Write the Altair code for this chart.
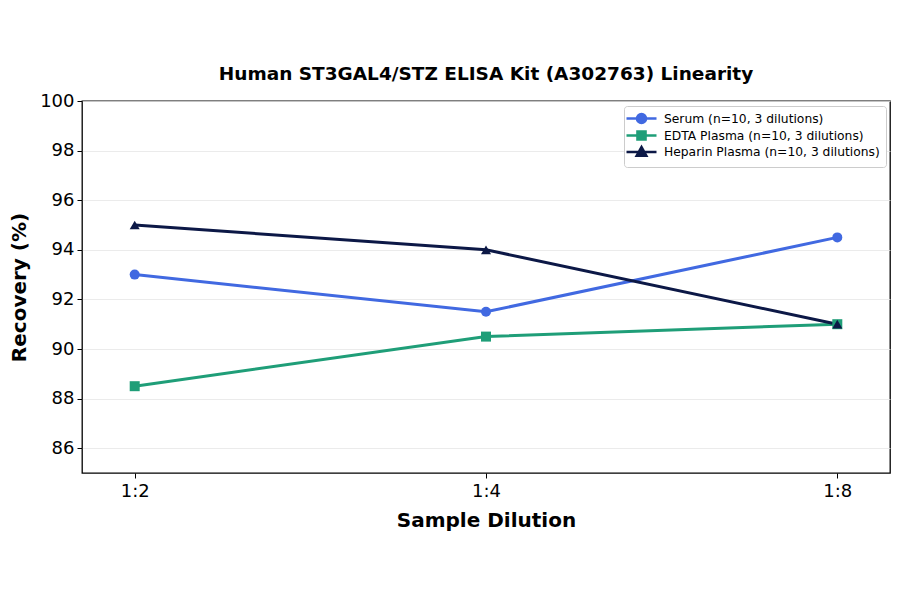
import altair as alt
import pandas as pd

dilutions = ["1:2", "1:4", "1:8"]
series_names = [
    "Serum (n=10, 3 dilutions)",
    "EDTA Plasma (n=10, 3 dilutions)",
    "Heparin Plasma (n=10, 3 dilutions)",
]
serum = [93.0, 91.5, 94.5]
edta = [88.5, 90.5, 91.0]
heparin = [95.0, 94.0, 91.0]
colors = ["#4169e1", "#1f9e78", "#0c1846"]
shapes = ["circle", "square", "triangle-up"]
# legend keys: a short line with the marker on it (unit paths)
legend_keys = [
    "M-3,0H3M0.9,0A0.9,0.9 0 1,1 -0.9,0A0.9,0.9 0 1,1 0.9,0Z",
    "M-3,0H3M-0.8,-0.8H0.8V0.8H-0.8Z",
    "M-3,0H3M0,-0.95L0.95,0.75H-0.95Z",
]

rows = []
for name, values in zip(series_names, [serum, edta, heparin]):
    for dil, val in zip(dilutions, values):
        rows.append({"dilution": dil, "recovery": val, "sample": name})
df = pd.DataFrame(rows)

font = "DejaVu Sans"

x_enc = alt.X(
    "dilution:N",
    sort=dilutions,
    scale=alt.Scale(type="point", padding=0.15),
    axis=alt.Axis(title="Sample Dilution", labelAngle=0),
)
y_enc = alt.Y(
    "recovery:Q",
    scale=alt.Scale(domain=[85, 100], nice=False, zero=False),
    axis=alt.Axis(title="Recovery (%)", values=[86, 88, 90, 92, 94, 96, 98, 100]),
)
color_scale = alt.Scale(domain=series_names, range=colors)

lines = alt.Chart(df).mark_line(strokeWidth=3).encode(
    x=x_enc,
    y=y_enc,
    color=alt.Color("sample:N", scale=color_scale, legend=None),
)
points = alt.Chart(df).mark_point(filled=True, size=100, opacity=1).encode(
    x=x_enc,
    y=y_enc,
    color=alt.Color("sample:N", scale=color_scale, legend=None),
    shape=alt.Shape(
        "sample:N", scale=alt.Scale(domain=series_names, range=shapes), legend=None
    ),
)

key_legend = alt.Legend(
    title=None,
    orient="none",
    legendX=542,
    legendY=5,
    labelFontSize=12.3,
    labelFont=font,
    labelLimit=0,
    symbolSize=100,
    symbolStrokeWidth=2.6,
    symbolOffset=5,
    labelOffset=16,
    rowPadding=-3.5,
    padding=6,
    fillColor="white",
    strokeColor="#cccccc",
    cornerRadius=3,
)
# legend only: no rows pass the filter, the keys come from the scale domain
legend_layer = (
    alt.Chart(df)
    .transform_filter("false")
    .mark_point(filled=True, opacity=1)
    .encode(
        x=x_enc,
        y=y_enc,
        color=alt.Color("sample:N", scale=color_scale, legend=key_legend),
        stroke=alt.Stroke("sample:N", scale=color_scale, legend=key_legend),
        shape=alt.Shape(
            "sample:N",
            scale=alt.Scale(domain=series_names, range=legend_keys),
            legend=key_legend,
        ),
    )
)

chart = (
    (lines + points + legend_layer)
    .resolve_scale(color="independent", shape="independent", stroke="independent")
    .properties(
        width=808,
        height=372,
        autosize=alt.AutoSizeParams(type="none"),
        padding={"left": 74, "top": 93, "right": 2, "bottom": 100},
        title=alt.Title(
            "Human ST3GAL4/STZ ELISA Kit (A302763) Linearity",
            fontSize=18.5,
            font=font,
            fontWeight="bold",
            offset=9,
            color="black",
        ),
    )
    .configure_view(stroke="black", strokeWidth=1.3)
    .configure_axis(
        labelFont=font,
        titleFont=font,
        labelFontSize=18,
        titleFontSize=20,
        titleFontWeight="bold",
        labelColor="black",
        titleColor="black",
        domain=False,
        tickColor="black",
        tickSize=5,
        gridColor="#e6e6e6",
        gridWidth=0.8,
    )
    .configure_axisX(titlePadding=10, labelPadding=4)
    .configure_axisY(titlePadding=10, labelPadding=3)
)

chart.save("out.html", embed_options={"renderer": "svg", "actions": False})
